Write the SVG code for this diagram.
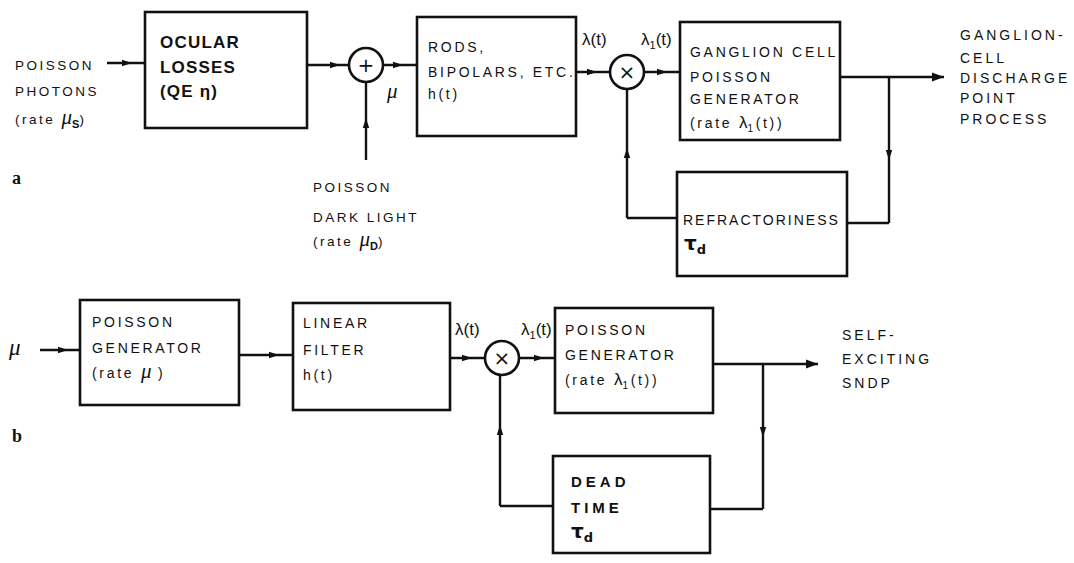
<svg xmlns="http://www.w3.org/2000/svg" width="1074" height="563" viewBox="0 0 1074 563">
<style>
.box{fill:none;stroke:#111;stroke-width:2.6}
.ln{fill:none;stroke:#111;stroke-width:2.4}
.ar{marker-mid:url(#mid)}
.ae{marker-end:url(#end)}
text{font-family:"Liberation Sans",Arial,sans-serif;fill:#111}
.t{font-size:14px;letter-spacing:2.7px}
.s{font-size:13.5px;letter-spacing:2.5px}
.r{font-size:14px;letter-spacing:3px}
.b{font-size:17px;font-weight:bold;letter-spacing:1.2px}
.bd{font-size:15px;font-weight:bold;letter-spacing:4px}
.lab{font-family:"Liberation Serif",serif;font-weight:bold;font-size:18px}
.mu{font-family:"Liberation Serif",serif;font-style:italic;font-size:21px;letter-spacing:0}
.sub{font-size:11px;font-weight:bold;letter-spacing:0}
.gk{font-size:17px;letter-spacing:0}
.tau{font-family:"DejaVu Sans",sans-serif;font-weight:bold;font-size:20px}
.op{font-family:"DejaVu Sans",sans-serif;font-size:20px;text-anchor:middle}
</style>
<defs>
<marker id="mid" markerUnits="userSpaceOnUse" markerWidth="12" markerHeight="8" refX="10" refY="4" orient="auto" viewBox="0 0 12 8">
<path d="M0,0.8 L10,4 L0,7.2 z" fill="#111"/>
</marker>
<marker id="end" markerUnits="userSpaceOnUse" markerWidth="14" markerHeight="10" refX="12" refY="5" orient="auto" viewBox="0 0 14 10">
<path d="M0,0.5 L12,5 L0,9.5 z" fill="#111"/>
</marker>
</defs>

<g id="connectors">
<!-- panel a -->
<path class="ln ar" d="M107,63 L132,63 L145,63"/>
<path class="ln ar" d="M307,65 L340,65 L349,65"/>
<path class="ln ar" d="M383,65 L403,65 L417,65"/>
<path class="ln ar" d="M366,160 L366,118 L366,82"/>
<path class="ln ar" d="M576,72 L597,72 L610,72"/>
<path class="ln ar" d="M644,72 L667,72 L680,72"/>
<path class="ln ae" d="M840,77 L944,77"/>
<path class="ln" d="M677,218 L627,218"/>
<path class="ln ar" d="M627,218 L627,148 L627,89"/>
<path class="ln" d="M847,223 L889,223"/>
<path class="ln ar" d="M889,77 L889,160 L889,223"/>
<!-- panel b -->
<path class="ln ar" d="M40,350 L68,350 L80,350"/>
<path class="ln ar" d="M239,355 L279,355 L293,355"/>
<path class="ln ar" d="M450,358 L472,358 L485,358"/>
<path class="ln ar" d="M519,358 L544,358 L555,358"/>
<path class="ln ae" d="M713,364 L818,364"/>
<path class="ln" d="M553,506 L500,506"/>
<path class="ln ar" d="M500,506 L500,425 L500,375"/>
<path class="ln" d="M710,509 L763,509"/>
<path class="ln ar" d="M763,364 L763,437 L763,509"/>
</g>

<g id="input-photons">
<text class="s" x="15" y="70">POISSON</text>
<text class="s" x="15" y="96">PHOTONS</text>
<text class="s" x="15" y="124">(rate <tspan class="mu">μ</tspan><tspan class="sub" dy="4">S</tspan><tspan dy="-4">)</tspan></text>
</g>

<g id="ocular-losses">
<rect class="box" x="145" y="12" width="162" height="116"/>
<text class="b" x="160" y="48">OCULAR</text>
<text class="b" x="160" y="73">LOSSES</text>
<text class="b" x="160" y="97">(QE η)</text>
</g>

<g id="sum">
<circle class="box" cx="366" cy="65" r="17"/>
<text class="op" x="366" y="72">+</text>
<text class="mu" x="387" y="98">μ</text>
</g>

<g id="dark-light">
<text class="s" x="313" y="192">POISSON</text>
<text class="s" x="313" y="222">DARK LIGHT</text>
<text class="s" x="313" y="246">(rate <tspan class="mu">μ</tspan><tspan class="sub" dy="4">D</tspan><tspan dy="-4">)</tspan></text>
</g>

<g id="rods">
<rect class="box" x="417" y="17" width="159" height="119"/>
<text class="t" x="428" y="52">RODS,</text>
<text class="t" x="428" y="77">BIPOLARS, ETC.</text>
<text class="t" x="428" y="99">h(t)</text>
<text class="gk" x="582" y="45">λ(t)</text>
</g>

<g id="mult-a">
<circle class="box" cx="627" cy="72" r="17"/>
<text class="op" x="627" y="79">×</text>
<text class="gk" x="641" y="45">λ<tspan font-size="11" dy="4">1</tspan><tspan dy="-4">(t)</tspan></text>
</g>

<g id="ganglion">
<rect class="box" x="680" y="22" width="160" height="118"/>
<text class="t" x="690" y="57">GANGLION CELL</text>
<text class="t" x="690" y="82">POISSON</text>
<text class="t" x="690" y="104">GENERATOR</text>
<text class="t" x="690" y="128">(rate <tspan class="gk">λ</tspan><tspan font-size="10" dy="4">1</tspan><tspan dy="-4">(t))</tspan></text>
</g>

<g id="ganglion-output">
<text class="r" x="960" y="40">GANGLION-</text>
<text class="r" x="960" y="63">CELL</text>
<text class="r" x="960" y="83">DISCHARGE</text>
<text class="r" x="960" y="103">POINT</text>
<text class="r" x="960" y="124">PROCESS</text>
</g>

<g id="refractoriness">
<rect class="box" x="677" y="172" width="170" height="104"/>
<text class="t" x="683" y="225" style="letter-spacing:2px">REFRACTORINESS</text>
<text class="tau" x="684" y="250">τ<tspan font-size="13" dy="4">d</tspan></text>
</g>

<text class="lab" x="12" y="184">a</text>
<text class="lab" x="12" y="442">b</text>

<g id="input-mu">
<text class="mu" x="9" y="355" style="font-size:23px">μ</text>
</g>

<g id="poisson-gen">
<rect class="box" x="80" y="300" width="159" height="105"/>
<text class="t" x="92" y="327">POISSON</text>
<text class="t" x="92" y="353">GENERATOR</text>
<text class="t" x="92" y="378">(rate <tspan class="mu">μ</tspan> )</text>
</g>

<g id="linear-filter">
<rect class="box" x="293" y="303" width="157" height="107"/>
<text class="t" x="303" y="328">LINEAR</text>
<text class="t" x="303" y="355">FILTER</text>
<text class="t" x="303" y="380">h(t)</text>
<text class="gk" x="455" y="335">λ(t)</text>
</g>

<g id="mult-b">
<circle class="box" cx="502" cy="358" r="17"/>
<text class="op" x="502" y="365">×</text>
<text class="gk" x="521" y="335">λ<tspan font-size="11" dy="4">1</tspan><tspan dy="-4">(t)</tspan></text>
</g>

<g id="poisson-gen-2">
<rect class="box" x="555" y="308" width="158" height="105"/>
<text class="t" x="565" y="335">POISSON</text>
<text class="t" x="565" y="360">GENERATOR</text>
<text class="t" x="565" y="385">(rate <tspan class="gk">λ</tspan><tspan font-size="10" dy="4">1</tspan><tspan dy="-4">(t))</tspan></text>
</g>

<g id="sndp-output">
<text class="r" x="842" y="340">SELF-</text>
<text class="r" x="842" y="364">EXCITING</text>
<text class="r" x="842" y="388">SNDP</text>
</g>

<g id="dead-time">
<rect class="box" x="553" y="456" width="157" height="97"/>
<text class="bd" x="571" y="487">DEAD</text>
<text class="bd" x="571" y="513">TIME</text>
<text class="tau" x="571" y="538">τ<tspan font-size="13" dy="4">d</tspan></text>
</g>
</svg>
